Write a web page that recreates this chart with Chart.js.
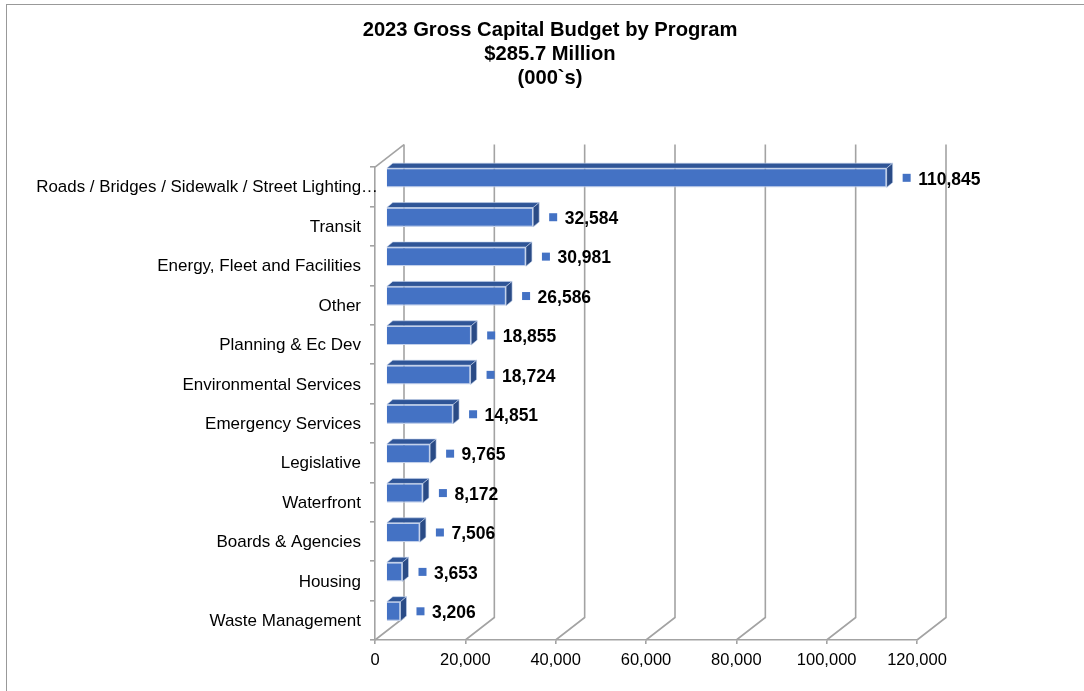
<!DOCTYPE html>
<html>
<head>
<meta charset="utf-8">
<title>2023 Gross Capital Budget by Program</title>
<script src="https://cdn.jsdelivr.net/npm/chart.js@4"></script>
<style>
    html, body { margin: 0; padding: 0; background: #fff; }
    #wrap { position: relative; width: 1084px; height: 691px; overflow: hidden; }
    #frame { position: absolute; left: 6px; top: 4px; width: 1100px; height: 700px; border-left: 1px solid #999; border-top: 1px solid #999; }
    canvas { position: absolute; left: 0; top: 0; }
</style>
</head>
<body>
<div id="wrap"><div id="frame"></div><canvas id="budgetChart" width="1084" height="691"></canvas></div>
<script>
const categories = ["Roads / Bridges / Sidewalk / Street Lighting\u2026", "Transit", "Energy, Fleet and Facilities", "Other",
    "Planning & Ec Dev", "Environmental Services", "Emergency Services", "Legislative",
    "Waterfront", "Boards & Agencies", "Housing", "Waste Management"];
const budget = [110845, 32584, 30981, 26586, 18855, 18724, 14851, 9765, 8172, 7506, 3653, 3206];
const titleLines = ["2023 Gross Capital Budget by Program", "$285.7 Million", "(000`s)"];

const FRONT = "#4472C4", TOP = "#2F5597", SIDE = "#2A4B86", EDGE = "#C3D1EB", GRID = "#A3A3A3", TEXT = "#000000";
const FONT = "'Liberation Sans', Arial, sans-serif";
// how far the back wall sits behind the front plane
const WALL_X = 29, WALL_Y = -22.5;
// bars stand inside the floor, with their own small depth
const BAR_X = 11, BAR_Y = -9, DEPTH_X = 6, DEPTH_Y = -5;

function poly(ctx, pts, fill) {
    ctx.beginPath();
    pts.forEach((p, i) => i ? ctx.lineTo(p[0], p[1]) : ctx.moveTo(p[0], p[1]));
    ctx.closePath();
    ctx.fillStyle = fill;
    ctx.fill();
    ctx.strokeStyle = EDGE;
    ctx.lineWidth = 0.6;
    ctx.stroke();
}

const depthPlugin = {
    id: "depth",
    afterLayout(chart) {
        // title is centred on the whole frame, not on the part left of the plot's right margin
        chart.titleBlock.left = 16;
        chart.titleBlock.right = 1084;
    },
    beforeDatasetsDraw(chart) {
        const ctx = chart.ctx, x = chart.scales.x, a = chart.chartArea;
        ctx.save();
        ctx.strokeStyle = GRID;
        ctx.lineWidth = 1.6;
        x.ticks.forEach(t => {
            const px = x.getPixelForValue(t.value);
            ctx.beginPath();
            ctx.moveTo(px, a.bottom);
            ctx.lineTo(px + WALL_X, a.bottom + WALL_Y);
            ctx.lineTo(px + WALL_X, a.top + WALL_Y);
            ctx.stroke();
        });
        ctx.beginPath();
        ctx.moveTo(a.left, a.top);
        ctx.lineTo(a.left + WALL_X, a.top + WALL_Y);
        ctx.stroke();
        ctx.restore();
    },
    beforeDatasetDraw(chart, args) {
        const ctx = chart.ctx;
        ctx.save();
        ctx.translate(BAR_X, BAR_Y);
        args.meta.data.forEach(bar => {
            const t = bar.y - bar.height / 2, b = bar.y + bar.height / 2, l = bar.base, r = bar.x;
            poly(ctx, [[l, t], [l + DEPTH_X, t + DEPTH_Y], [r + DEPTH_X, t + DEPTH_Y], [r, t]], TOP);
            poly(ctx, [[r, t], [r + DEPTH_X, t + DEPTH_Y], [r + DEPTH_X, b + DEPTH_Y], [r, b]], SIDE);
        });
    },
    afterDatasetDraw(chart) {
        chart.ctx.restore();
    },
    afterDatasetsDraw(chart) {
        const ctx = chart.ctx, meta = chart.getDatasetMeta(0), y = chart.scales.y;
        ctx.save();
        ctx.textBaseline = "middle";
        meta.data.forEach((bar, i) => {
            const end = bar.x + BAR_X, cy = bar.y + BAR_Y;
            ctx.fillStyle = FRONT;
            ctx.fillRect(end + 16, cy - 4, 8, 8);
            ctx.fillStyle = TEXT;
            ctx.font = "bold 17.5px " + FONT;
            ctx.textAlign = "left";
            ctx.fillText(budget[i].toLocaleString("en-US"), end + 31.5, cy + 2);
        });
        // the long first label runs past the others, up to the axis
        ctx.font = "16.9px " + FONT;
        ctx.textAlign = "right";
        ctx.fillStyle = TEXT;
        ctx.fillText(categories[0], 378, y.getPixelForValue(0) + 1);
        ctx.restore();
    }
};

new Chart(document.getElementById("budgetChart"), {
    type: "bar",
    data: {
        labels: categories,
        datasets: [{
            data: budget,
            backgroundColor: FRONT,
            borderColor: EDGE,
            borderWidth: 1.2,
            barPercentage: 0.49,
            categoryPercentage: 1
        }]
    },
    options: {
        indexAxis: "y",
        responsive: false,
        animation: false,
        layout: { padding: { left: 16, right: 167, top: 0, bottom: 0 } },
        plugins: {
            legend: { display: false },
            tooltip: { enabled: false },
            title: {
                display: true,
                text: titleLines,
                color: TEXT,
                font: { family: FONT, size: 20.2, weight: "bold", lineHeight: 1.19 },
                padding: { top: 18, bottom: 77 }
            }
        },
        scales: {
            x: {
                min: 0,
                max: 120000,
                afterFit: s => { s.height = 51; },
                ticks: {
                    stepSize: 20000,
                    color: TEXT,
                    padding: 7,
                    maxRotation: 0,
                    font: { family: FONT, size: 16.5 },
                    callback: v => v.toLocaleString("en-US")
                },
                grid: { drawOnChartArea: false, drawTicks: true, tickLength: 4, color: GRID, lineWidth: 1.6 },
                border: { color: GRID, width: 1.6 }
            },
            y: {
                afterFit: s => { s.width = 359; },
                ticks: {
                    color: TEXT,
                    padding: 9,
                    labelOffset: 1,
                    autoSkip: false,
                    font: { family: FONT, size: 17 },
                    callback: (v, i) => i === 0 ? "" : categories[i]
                },
                grid: { drawOnChartArea: false, drawTicks: true, tickLength: 5, color: GRID, lineWidth: 1.6 },
                border: { color: GRID, width: 1.6 }
            }
        }
    },
    plugins: [depthPlugin]
});
</script>
</body>
</html>
